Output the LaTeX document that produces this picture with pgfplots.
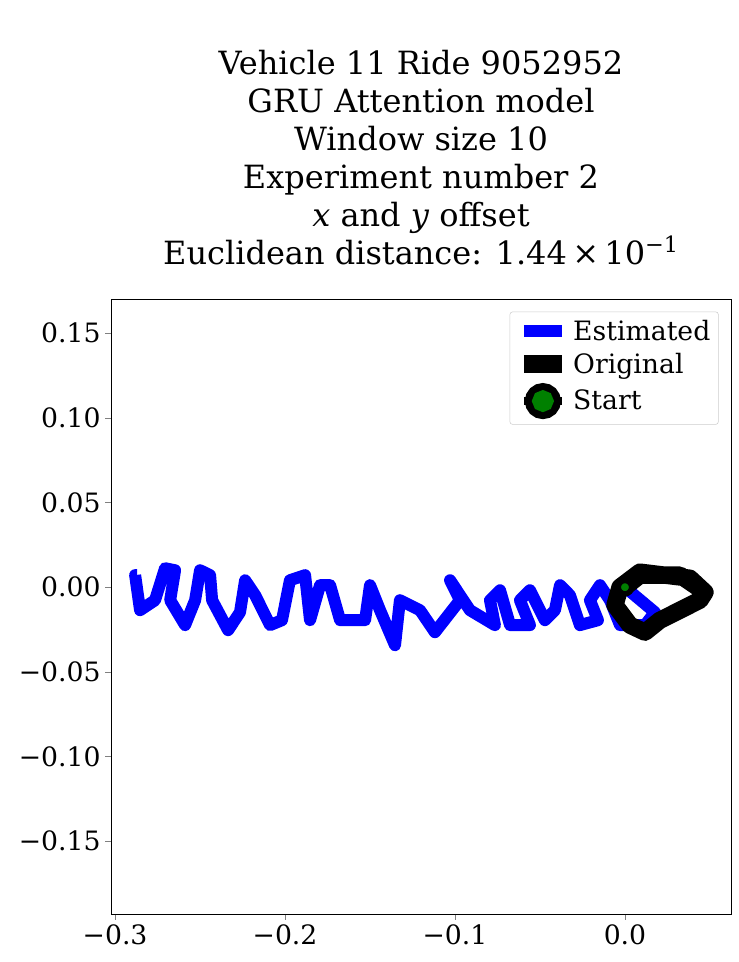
\documentclass[border=0pt]{standalone}
\usepackage{pgfplots}
\pgfplotsset{compat=1.18}
\usepackage{fontspec}
\setmainfont{DejaVu Serif}
\begin{document}
\begin{tikzpicture}
\path[use as bounding box] (-83.25pt,-36pt) rectangle (470.25pt,685.5pt);
\begin{axis}[at={(0pt,0pt)},anchor=south west,scale only axis,width=465pt,height=461pt,
 xmin=-0.3024,xmax=0.0624,ymin=-0.193,ymax=0.170,
 xtick={-0.3,-0.2,-0.1,0.0},xticklabels={−0.3,−0.2,−0.1,0.0},
 ytick={-0.15,-0.1,-0.05,0,0.05,0.1,0.15},
 yticklabels={−0.15,−0.10,−0.05,0.00,0.05,0.10,0.15},
 ticklabel style={font=\fontsize{20}{24}\selectfont},
 tick align=outside,xtick pos=bottom,ytick pos=left,
 title style={font=\fontsize{24}{28.5}\selectfont,align=center,yshift=16pt},
 title={Vehicle 11 Ride 9052952\\GRU Attention model\\Window size 10\\Experiment number 2\\\textit{x} and \textit{y} offset\\Euclidean distance: 1.44\,×\,10\textsuperscript{−1}},
 legend style={at={(0.98,0.98)},anchor=north east,font=\fontsize{20}{24}\selectfont,draw=gray!40,rounded corners=2pt,row sep=4pt,inner sep=4pt},
 legend cell align=left,
 legend image code/.code={\draw[#1] (0cm,0cm) -- (1.0cm,0cm);},
]
\addplot[blue,line width=9pt,line join=round] coordinates {
(0,0)(.0176,-.0148)(.0118,-.0224)(-.0029,-.0224)(-.0088,-.0077)(-.0147,.0012)(-.0206,-.0077)(-.0159,-.0195)(-.0265,-.0224)(-.0324,-.0047)(-.0382,.0012)(-.0412,-.0136)(-.0471,-.0195)(-.0559,-.0018)(-.0618,-.0077)(-.0559,-.0224)(-.0676,-.0224)(-.0735,-.0018)(-.0794,-.0077)(-.0765,-.0224)(-.0912,-.0136)(-.1029,.0041)(-.0971,-.0077)(-.1118,-.0266)(-.1206,-.0136)(-.1324,-.0077)(-.1353,-.0343)(-.1441,-.0136)(-.15,.0012)(-.1529,-.0195)(-.1676,-.0195)(-.1735,.0012)(-.1794,.0012)(-.1853,-.0195)(-.1882,.0071)(-.1971,.0041)(-.2018,-.0195)(-.2088,-.0224)(-.2176,-.0047)(-.2235,.0041)(-.2265,-.0148)(-.2335,-.0254)(-.2429,-.0077)(-.2441,.0071)(-.25,.01)(-.2529,-.0077)(-.2588,-.0224)(-.2676,-.0077)(-.2647,.01)(-.2706,.0112)(-.2765,-.0077)(-.2853,-.0136)(-.2882,.0071)(-.2871,.0071)};
\addlegendentry{Estimated}
\addplot[black,line width=13pt,line join=round] coordinates {
(0,0)(.0088,.0071)(.0324,.0071)(.0471,-.003)(.0441,-.0077)(.0206,-.0195)(.0118,-.0266)(.0029,-.0224)(-.0059,-.0106)(-.0029,0)(.0088,.0089)(.0382,.0053)(.0471,-.003)};
\addlegendentry{Original}
\addplot[black,line width=9pt,mark=*,mark size=5pt,mark options={fill=green!50!black,draw=black,line width=4pt},
 legend image code/.code={\draw[black,line width=6pt] (0cm,0cm) -- (1.0cm,0cm);\fill[black] (0.5cm,0cm) circle (9pt);\fill[green!50!black] (0.5cm,0cm) circle (3.5pt);}] coordinates {(0,0)};
\addlegendentry{Start}
\end{axis}
\end{tikzpicture}
\end{document}
